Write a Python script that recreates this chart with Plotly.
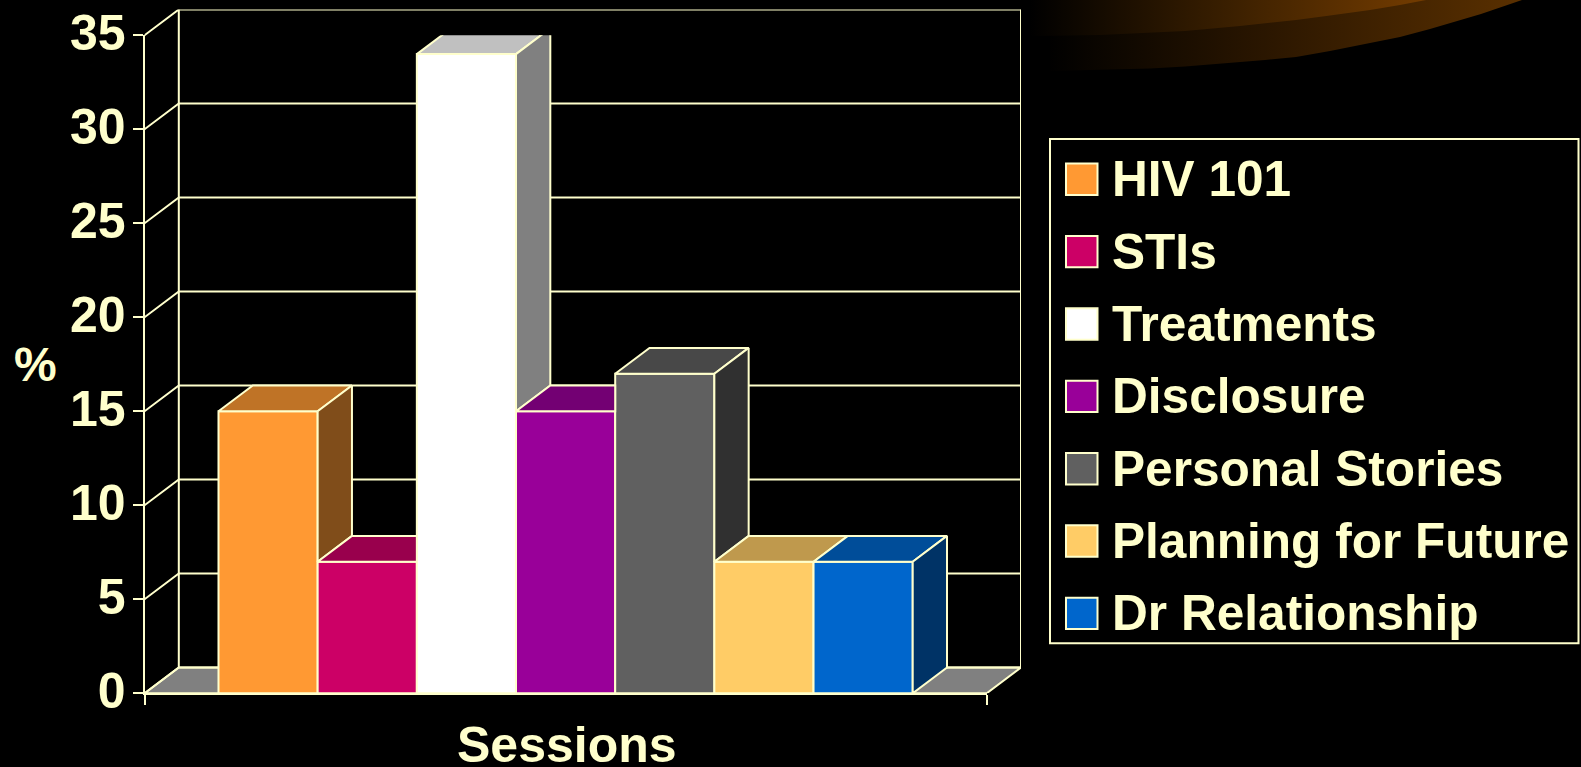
import plotly.graph_objects as go

# ---- data ----
sessions = ["HIV 101", "STIs", "Treatments", "Disclosure", "Personal Stories", "Planning for Future", "Dr Relationship"]
percent = [15, 7, 34, 15, 17, 7, 7]
front_colors = ["#FF9933", "#CC0066", "#FFFFFF", "#990099", "#606060", "#FFCC66", "#0066CC"]
top_colors = ["#BF7326", "#99004D", "#C0C0C0", "#730073", "#484848", "#BF994D", "#004D99"]
side_colors = ["#804D1A", "#660033", "#808080", "#4D004D", "#303030", "#806633", "#003366"]
y_ticks = [0, 5, 10, 15, 20, 25, 30, 35]

# decorative glow in the top right corner (screen pixels)
glow_outer_x = [1050, 1074, 1100, 1150, 1185, 1240, 1265, 1296, 1330, 1370, 1400, 1430, 1455, 1481, 1522]
glow_outer_y = [71, 70.5, 70, 68.5, 66.5, 62.5, 60, 57, 51, 43, 37, 29, 22, 14, 0]
glow_inner_x = [1025, 1037, 1100, 1150, 1185, 1240, 1296, 1330, 1370, 1400, 1426]
glow_inner_y = [36, 36, 35, 33, 31, 26, 20, 15.5, 10, 5, 0]

# ---- layout constants ----
W, H = 1581, 767
INK = "#FFFFCC"
FONT = "Liberation Sans, Arial, sans-serif"
LW = 2
left, right_front, right_back = 144.5, 986.7, 1021.0
y0_px, y35_px, top_px = 693.3, 35.3, 9.5
gap = 0.746
xmin, xmax = -0.5 - gap, len(percent) - 0.5 + gap
unit_x = (right_front - left) / (xmax - xmin)
unit_y = (y0_px - y35_px) / 35
ddx = (right_back - right_front) / unit_x
ddy = (y35_px - top_px) / unit_y

fig = go.Figure()

# ---- walls and floor on the hidden primary axes (drawn below everything) ----
wx, wy = [], []
for t in y_ticks:
    wx += [xmin, xmin + ddx, xmax + ddx, None]
    wy += [t, t + ddy, t + ddy, None]
wx += [xmin + ddx, xmin + ddx, None, xmax + ddx, xmax + ddx, None, xmin, xmin, None]
wy += [ddy, 35 + ddy, None, ddy, 35 + ddy, None, 0, -10 / unit_y, None]
fig.add_trace(go.Scatter(x=[xmin, xmax, xmax + ddx, xmin + ddx, xmin], y=[0, 0, ddy, ddy, 0],
                         mode="lines", fill="toself", fillcolor="#808080",
                         line=dict(color=INK, width=LW), hoverinfo="skip", showlegend=False,
                         cliponaxis=False, xaxis="x", yaxis="y"))
fig.add_trace(go.Scatter(x=wx, y=wy, mode="lines", line=dict(color=INK, width=LW),
                         hoverinfo="skip", showlegend=False, cliponaxis=False,
                         connectgaps=False, xaxis="x", yaxis="y"))

# ---- bar fronts ----
for i, (name, v, c) in enumerate(zip(sessions, percent, front_colors)):
    fig.add_trace(go.Bar(x=[i], y=[v], name=name, width=1, marker=dict(color=c, line=dict(color=INK, width=LW)),
                         showlegend=False, xaxis="x2", yaxis="y2"))

# ---- bar tops and sides, clipped where the next bar hides them ----
for i, v in enumerate(percent):
    n = percent[i + 1] if i + 1 < len(percent) else 0
    L, R = i - 0.5, i + 0.5
    if n > v:
        tx, ty = [L, R, R, L + ddx, L], [v, v, v + ddy, v + ddy, v]
    else:
        tx, ty = [L, R, R + ddx, L + ddx, L], [v, v, v + ddy, v + ddy, v]
    fig.add_trace(go.Scatter(x=tx, y=ty, mode="lines", fill="toself", fillcolor=top_colors[i],
                             line=dict(color=INK, width=LW), hoverinfo="skip", showlegend=False,
                             cliponaxis=False, xaxis="x2", yaxis="y2"))
    if n < v:
        fig.add_trace(go.Scatter(x=[R, R + ddx, R + ddx, R, R], y=[v, v + ddy, n + ddy, n, v],
                                 mode="lines", fill="toself", fillcolor=side_colors[i],
                                 line=dict(color=INK, width=LW), hoverinfo="skip", showlegend=False,
                                 cliponaxis=False, xaxis="x2", yaxis="y2"))

# ---- corner glow ----
fig.add_trace(go.Scatter(x=glow_outer_x + [1522, 1050], y=glow_outer_y + [0, 0], mode="lines", fill="toself",
                         line=dict(width=0), hoverinfo="skip", showlegend=False, xaxis="x3", yaxis="y3",
                         fillgradient=dict(type="horizontal", start=1045, stop=1522,
                                           colorscale=[[0, "#000000"], [0.5, "#2E1800"], [1, "#5A3000"]])))
fig.add_trace(go.Scatter(x=glow_inner_x + [1426, 1025], y=glow_inner_y + [0, 0], mode="lines", fill="toself",
                         line=dict(width=0), hoverinfo="skip", showlegend=False, xaxis="x3", yaxis="y3",
                         fillgradient=dict(type="horizontal", start=1030, stop=1426,
                                           colorscale=[[0, "#000000"], [0.5, "#3A1F00"], [1, "#743C00"]])))

# ---- hand-built legend to match the large key squares ----
shapes = [dict(type="rect", xref="paper", yref="paper", x0=1050 / W, x1=1578.5 / W,
               y0=1 - 643.3 / H, y1=1 - 139 / H, line=dict(color=INK, width=LW), fillcolor="rgba(0,0,0,0)")]
annotations = []
row0, pitch = 179.3, 72.35
for i, (name, c) in enumerate(zip(sessions, front_colors)):
    cy = row0 + i * pitch
    shapes.append(dict(type="rect", xref="paper", yref="paper", x0=1066 / W, x1=1097.5 / W,
                       y0=1 - (cy + 15.7) / H, y1=1 - (cy - 15.7) / H,
                       line=dict(color=INK, width=LW), fillcolor=c))
    annotations.append(dict(text=f"<b>{name}</b>", xref="paper", yref="paper", x=1110 / W, y=1 - cy / H,
                            xanchor="left", yanchor="middle", showarrow=False,
                            font=dict(family=FONT, size=49.6, color=INK)))
annotations.append(dict(text="<b>%</b>", xref="paper", yref="paper", x=35 / W, y=1 - 365 / H,
                        xanchor="center", yanchor="middle", showarrow=False,
                        font=dict(family=FONT, size=48, color=INK)))
annotations.append(dict(text="<b>Sessions</b>", xref="paper", yref="paper", x=567 / W, y=1 - 745 / H,
                        xanchor="center", yanchor="middle", showarrow=False,
                        font=dict(family=FONT, size=50, color=INK)))

fig.update_layout(
    width=W, height=H, margin=dict(l=0, r=0, t=0, b=0), autosize=False,
    paper_bgcolor="#000000", plot_bgcolor="rgba(0,0,0,0)", barmode="overlay", showlegend=False,
    font=dict(family=FONT, color=INK), shapes=shapes, annotations=annotations,
    xaxis=dict(domain=[left / W, right_back / W], range=[xmin, xmax + ddx], visible=False, anchor="y",
               fixedrange=True, automargin=False),
    yaxis=dict(domain=[1 - y0_px / H, 1 - top_px / H], range=[0, 35 + ddy], visible=False, anchor="x",
               fixedrange=True, automargin=False),
    xaxis2=dict(domain=[left / W, right_front / W], range=[xmin, xmax], anchor="y2", showgrid=False, zeroline=False,
                showline=True, linecolor=INK, linewidth=LW, ticks="outside", ticklen=10, tickwidth=LW, tickcolor=INK,
                tickmode="array", tickvals=[xmin, xmax], ticktext=["", ""], fixedrange=True, automargin=False),
    yaxis2=dict(domain=[1 - y0_px / H, 1 - y35_px / H], range=[0, 35], anchor="x2", showgrid=False, zeroline=False,
                showline=True, linecolor=INK, linewidth=LW, ticks="outside", ticklen=10, tickwidth=LW, tickcolor=INK,
                tickmode="array", tickvals=y_ticks, ticktext=[f"<b>{t}</b>" for t in y_ticks], fixedrange=True,
                automargin=False, ticklabelstandoff=-3, ticklabelshift=-3,
                tickfont=dict(family=FONT, size=50, color=INK)),
    xaxis3=dict(domain=[1020 / W, 1], range=[1020, 1581], visible=False, anchor="y3", fixedrange=True, automargin=False),
    yaxis3=dict(domain=[1 - 80 / H, 1], range=[80, 0], visible=False, anchor="x3", fixedrange=True, automargin=False),
)

fig.write_html("out.html", config=dict(displayModeBar=False),
               post_script="document.body.style.margin='0';document.body.style.background='#000';")
